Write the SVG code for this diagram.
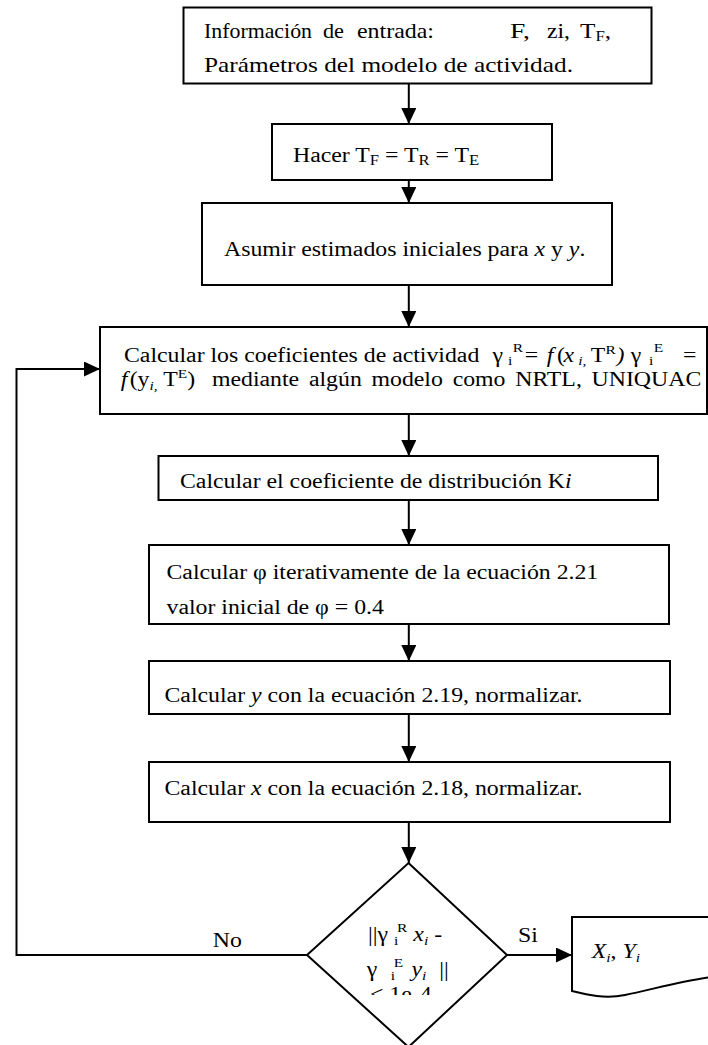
<svg xmlns="http://www.w3.org/2000/svg" width="708" height="1045" viewBox="0 0 708 1045">
<defs>
<marker id="ah" markerUnits="userSpaceOnUse" markerWidth="16" markerHeight="15" refX="16" refY="7.5" orient="auto"><path d="M0,0 L16,7.5 L0,15 Z" fill="#000"/></marker>
<clipPath id="dclip"><rect x="300" y="900" width="220" height="95"/></clipPath>
</defs>
<style>
.box{fill:#fff;stroke:#000;stroke-width:2}
.ln{fill:none;stroke:#000;stroke-width:2}
text{font-family:"Liberation Serif","Times New Roman",serif;font-size:20px;fill:#000}
.big{font-size:21px}
.it{font-style:italic}
.sb{font-size:13px}
.sb2{font-size:14px}
</style>
<rect width="708" height="1045" fill="#fff"/>

<g id="n1">
<rect class="box" x="183.5" y="7.5" width="468" height="76"/>
<text class="big" x="204" y="38" textLength="108" lengthAdjust="spacingAndGlyphs">Información</text>
<text class="big" x="323" y="38" textLength="21" lengthAdjust="spacingAndGlyphs">de</text>
<text class="big" x="357" y="38" textLength="77" lengthAdjust="spacingAndGlyphs">entrada:</text>
<text class="big" x="510" y="38" textLength="20" lengthAdjust="spacingAndGlyphs">F,</text>
<text class="big" x="547" y="38" textLength="23" lengthAdjust="spacingAndGlyphs">zi,</text>
<text class="big" transform="translate(580,38) scale(1.2,1)">T<tspan class="sb2" dy="3">F</tspan><tspan dy="-3">,</tspan></text>
<text class="big" x="204" y="72" textLength="369" lengthAdjust="spacingAndGlyphs">Parámetros del modelo de actividad.</text>
</g>

<g id="n2">
<rect class="box" x="272" y="124" width="280" height="56"/>
<text transform="translate(293,162) scale(1.19,1)">Hacer T<tspan class="sb2" dy="3">F</tspan><tspan dy="-3"> = T</tspan><tspan class="sb2" dy="3">R</tspan><tspan dy="-3"> = T</tspan><tspan class="sb2" dy="3">E</tspan></text>
</g>

<g id="n3">
<rect class="box" x="202" y="203" width="410" height="82"/>
<text transform="translate(224,256) scale(1.19,1)">Asumir estimados iniciales para <tspan class="it">x</tspan> y <tspan class="it">y</tspan>.</text>
</g>

<g id="n4">
<rect class="box" x="100" y="327" width="607" height="87"/>
<text transform="translate(124,362) scale(1.19,1)">Calcular los coeficientes de actividad</text>
<text transform="translate(0,362) scale(1.19,1)"><tspan x="413.9">γ</tspan><tspan class="sb" x="426.9" dy="3">i</tspan><tspan class="sb" x="431" dy="-13">R</tspan><tspan x="441" dy="10">=</tspan><tspan class="it" x="459.5">f</tspan><tspan x="468">(</tspan><tspan class="it" x="473.5">x</tspan><tspan class="it sb" x="486" dy="3">i,</tspan><tspan x="496.5" dy="-3">T</tspan><tspan class="sb" x="508.8" dy="-8">R</tspan><tspan class="it" x="518" dy="8">)</tspan><tspan x="530">γ</tspan><tspan class="sb" x="545.4" dy="3">i</tspan><tspan class="sb" x="549.4" dy="-13">E</tspan><tspan x="574" dy="10">=</tspan></text>
<text transform="translate(120.7,386) scale(1.19,1)"><tspan class="it">f</tspan><tspan dx="2">(y</tspan><tspan class="it sb" dy="4">i,</tspan><tspan dy="-4"> T</tspan><tspan class="sb" dy="-8">E</tspan><tspan dy="8">)</tspan></text>
<text transform="translate(212,386) scale(1.19,1)" word-spacing="3.2">mediante algún modelo como NRTL, UNIQUAC</text>
</g>

<g id="n5">
<rect class="box" x="158.5" y="456" width="499.5" height="44"/>
<text transform="translate(180,488) scale(1.19,1)">Calcular el coeficiente de distribución K<tspan class="it">i</tspan></text>
</g>

<g id="n6">
<rect class="box" x="149" y="545" width="520" height="79"/>
<text transform="translate(166.5,579) scale(1.19,1)">Calcular φ iterativamente de la ecuación 2.21</text>
<text transform="translate(166.5,614) scale(1.19,1)">valor inicial de φ = 0.4</text>
</g>

<g id="n7">
<rect class="box" x="149" y="661" width="521" height="53"/>
<text transform="translate(164.5,702) scale(1.19,1)">Calcular <tspan class="it">y</tspan> con la ecuación 2.19, normalizar.</text>
</g>

<g id="n8">
<rect class="box" x="149" y="762" width="521" height="60"/>
<text transform="translate(164.5,795) scale(1.19,1)">Calcular <tspan class="it">x</tspan> con la ecuación 2.18, normalizar.</text>
</g>

<g id="n9">
<polygon class="box" points="408.5,863 507,955 408.5,1047 307,955"/>
<g clip-path="url(#dclip)" fill="#111">
<text transform="translate(368,941) scale(1.19,1)">||γ <tspan class="sb" dy="4">i</tspan><tspan class="sb" dx="-1" dy="-13">R</tspan><tspan class="it" dx="5" dy="9">x</tspan><tspan class="it sb" dy="4">i</tspan><tspan dy="-4"> -</tspan></text>
<text transform="translate(366.7,976) scale(1.19,1)">γ<tspan class="sb" dx="11.3" dy="4">i</tspan><tspan class="sb" dx="-1" dy="-13">E</tspan><tspan class="it" dx="7" dy="9">y</tspan><tspan class="it sb" dy="4">i</tspan><tspan dx="10.7" dy="-4">||</tspan></text>
<text transform="translate(370,1001) scale(1.19,1)">&lt; 1e-4</text>
</g>
</g>

<g id="n10">
<path class="box" d="M572,917 H712 V977 C685,980 650,990 625,995 C605,999 588,995 572,991 Z"/>
<text transform="translate(591.7,958) scale(1.19,1)"><tspan class="it">X</tspan><tspan class="it sb" dy="4">i</tspan><tspan dy="-4">, </tspan><tspan class="it">Y</tspan><tspan class="it sb" dy="4">i</tspan></text>
</g>

<g id="connectors">
<path class="ln" d="M408.8,83.5 V124" marker-end="url(#ah)"/>
<path class="ln" d="M408.8,180 V203" marker-end="url(#ah)"/>
<path class="ln" d="M408.8,285 V327" marker-end="url(#ah)"/>
<path class="ln" d="M408.8,414 V456" marker-end="url(#ah)"/>
<path class="ln" d="M408.8,500 V545" marker-end="url(#ah)"/>
<path class="ln" d="M408.8,624 V661" marker-end="url(#ah)"/>
<path class="ln" d="M408.8,714 V762" marker-end="url(#ah)"/>
<path class="ln" d="M408.8,822 V863" marker-end="url(#ah)"/>
<path class="ln" d="M307,955 H16.5 V369 H100" marker-end="url(#ah)"/>
<path class="ln" d="M507,955 H572" marker-end="url(#ah)"/>
<text transform="translate(212.7,947) scale(1.19,1)">No</text>
<text transform="translate(518,942) scale(1.19,1)">Si</text>
</g>
</svg>
